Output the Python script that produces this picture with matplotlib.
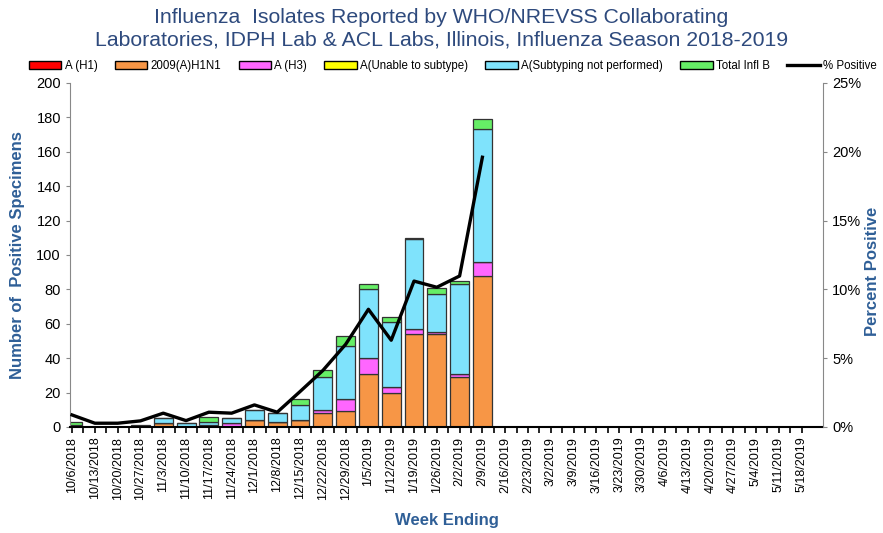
import numpy as np
import matplotlib
matplotlib.use("Agg")
import matplotlib.pyplot as plt
from matplotlib.patches import Patch
from matplotlib.lines import Line2D
from matplotlib.ticker import FixedLocator, FuncFormatter

narrow = ['Liberation Sans Narrow', 'Liberation Sans', 'DejaVu Sans']
plt.rcParams['font.family'] = narrow

weeks = ['10/6/2018', '10/13/2018', '10/20/2018', '10/27/2018', '11/3/2018',
         '11/10/2018', '11/17/2018', '11/24/2018', '12/1/2018', '12/8/2018',
         '12/15/2018', '12/22/2018', '12/29/2018', '1/5/2019', '1/12/2019',
         '1/19/2019', '1/26/2019', '2/2/2019', '2/9/2019', '2/16/2019',
         '2/23/2019', '3/2/2019', '3/9/2019', '3/16/2019', '3/23/2019',
         '3/30/2019', '4/6/2019', '4/13/2019', '4/20/2019', '4/27/2019',
         '5/4/2019', '5/11/2019', '5/18/2019']
n = len(weeks)

# counts for weeks reported so far (rest of season is zero)
a_h1     = [0]*19
h1n1     = [0, 0, 0, 0, 2, 0, 1, 0, 4, 3, 4, 8, 9, 31, 20, 54, 54, 29, 88]
a_h3     = [0, 0, 0, 0, 0, 0, 0, 2, 0, 0, 0, 2, 7, 9, 3, 3, 1, 2, 8]
a_unable = [0]*19
a_notsub = [1, 0, 0, 0, 3, 2, 2, 3, 6, 5, 9, 19, 31, 40, 38, 52, 22, 52, 77]
infl_b   = [2, 0, 0, 1, 0, 0, 3, 0, 0, 0, 3, 4, 6, 3, 3, 1, 4, 2, 6]
pct_pos  = [0.87, 0.27, 0.27, 0.44, 1.0, 0.46, 1.07, 1.0, 1.6, 1.07, 2.57,
            4.1, 6.0, 8.55, 6.3, 10.6, 10.15, 10.97, 19.6]

series = [('A (H1)', a_h1, '#FF0000'),
          ('2009(A)H1N1', h1n1, '#F79646'),
          ('A (H3)', a_h3, '#FF66FF'),
          ('A(Unable to subtype)', a_unable, '#FFFF00'),
          ('A(Subtyping not performed)', a_notsub, '#7FE3FC'),
          ('Total Infl B', infl_b, '#66EE66')]

fig = plt.figure(figsize=(8.83, 5.33), dpi=100)
ax = fig.add_axes([0.0793, 0.199, 0.8527, 0.6454])

x = np.arange(n)
bottom = np.zeros(n)
for name, vals, col in series:
    v = np.zeros(n)
    v[:len(vals)] = vals
    ax.bar(x, v, 0.83, bottom=bottom, color=col, edgecolor='#333333',
           linewidth=0.9, zorder=2)
    bottom += v

ax.set_xlim(-0.09, 32.94)
ax.set_ylim(0, 200)
ax.set_yticks(range(0, 201, 20))
ax.set_xticks(x)
ax.set_xticklabels(weeks, rotation=90, fontsize=9)
ax.xaxis.set_minor_locator(FixedLocator(x[:-1] + 0.5))
ax.tick_params(axis='x', which='both', direction='out', length=4, width=1.2,
               colors='black', pad=3)
ax.tick_params(axis='y', direction='out', length=3, colors='#888888',
               labelcolor='black', labelsize=10.5)
ax.spines['top'].set_visible(False)
ax.spines['right'].set_visible(False)
ax.spines['left'].set_color('#888888')
ax.spines['bottom'].set_linewidth(1.5)
ax.set_ylabel('Number of  Positive Specimens', fontsize=12, fontweight='bold',
              color='#2F5F97', family=['Liberation Sans', 'DejaVu Sans'], labelpad=8)
ax.set_xlabel('Week Ending', fontsize=12, fontweight='bold', color='#2F5F97',
              family=['Liberation Sans', 'DejaVu Sans'], labelpad=10)

ax2 = ax.twinx()
ax2.plot(x[:len(pct_pos)], pct_pos, color='black', linewidth=2.4, zorder=3)
ax2.set_ylim(0, 25)
ax2.set_yticks(range(0, 26, 5))
ax2.yaxis.set_major_formatter(FuncFormatter(lambda v, p: '%d%%' % v))
ax2.tick_params(axis='y', direction='out', length=3, colors='#888888',
                labelcolor='black', labelsize=10.5)
for s in ['top', 'left', 'bottom']:
    ax2.spines[s].set_visible(False)
ax2.spines['right'].set_color('#888888')

fig.text(865/883, 0.49, 'Percent Positive', rotation=90, ha='left', va='center',
         fontsize=12, fontweight='bold', color='#2F5F97',
         family=['Liberation Sans', 'DejaVu Sans'])

fig.text(0.5, 0.968, 'Influenza  Isolates Reported by WHO/NREVSS Collaborating',
         ha='center', va='center', fontsize=15.3, color='#2E4A7D')
fig.text(0.5, 0.925, 'Laboratories, IDPH Lab & ACL Labs, Illinois, Influenza Season 2018-2019',
         ha='center', va='center', fontsize=15.3, color='#2E4A7D')

handles = [Patch(facecolor=c, edgecolor='black', linewidth=1) for _, _, c in series]
handles.append(Line2D([0], [0], color='black', linewidth=2.4))
labels = [s[0] for s in series] + ['% Positive']
fig.legend(handles, labels, loc='center', bbox_to_anchor=(0.513, 0.876), ncol=7,
           frameon=False, fontsize=8.3, handlelength=2.8, handleheight=0.6,
           handletextpad=0.3, columnspacing=1.5)

fig.savefig('out.png', dpi=100)
